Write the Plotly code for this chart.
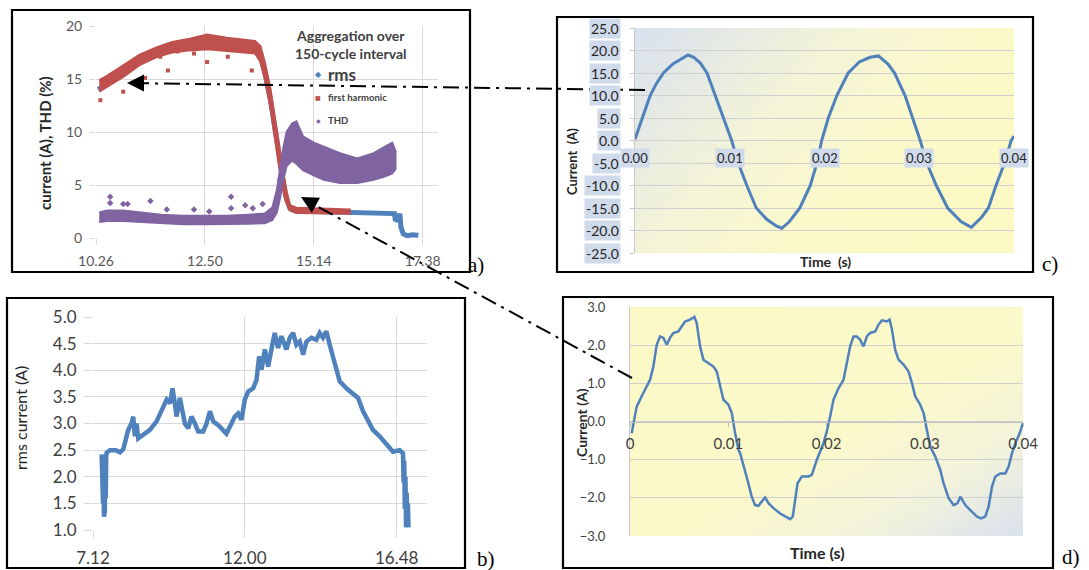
import base64
import plotly.graph_objects as go

# ---------------- data ----------------
# panel a (x in category-index units, labelled by A_XTICK_LABELS)
A_XTICK_LABELS = ["10.26", "12.50", "15.14", "17.38"]
A_YTICKS = [0, 5, 10, 15, 20]
A_RMS_X = [0.02, 0.1, 0.25, 0.4, 0.56, 0.7, 0.86, 1.02, 1.2, 1.35, 1.46, 1.51, 1.55, 1.6, 1.645, 1.69, 1.74,
           1.78, 1.84, 2.0, 2.3, 2.5, 2.7, 2.74, 2.75, 2.76, 2.77, 2.79, 2.8, 2.82, 2.86, 2.9, 2.96]
A_RMS_Y = [14.0, 14.5, 15.5, 16.6, 17.3, 17.8, 18.0, 18.2, 18.1, 17.9, 17.8, 17.1, 15.6, 13.1, 10.0, 6.8, 4.0,
           2.8, 2.55, 2.5, 2.45, 2.4, 2.4, 2.3, 1.6, 2.2, 1.5, 2.3, 1.0, 0.4, 0.2, 0.3, 0.25]
A_H1_X = [0.03, 0.1, 0.25, 0.4, 0.56, 0.7, 0.86, 1.02, 1.2, 1.35, 1.46, 1.51, 1.55, 1.6, 1.645, 1.69, 1.74,
          1.78, 1.84, 2.0, 2.2, 2.33]
A_H1_LO = [13.8, 14.3, 15.2, 16.3, 17.1, 17.5, 17.7, 17.8, 17.7, 17.5, 17.4, 16.6, 15.0, 12.4, 9.3, 6.1, 3.5,
           2.6, 2.35, 2.3, 2.3, 2.3]
A_H1_HI = [14.9, 15.3, 16.3, 17.3, 18.0, 18.5, 18.8, 19.2, 18.9, 18.7, 18.6, 18.1, 16.6, 14.2, 11.1, 7.9, 4.9,
           3.1, 2.85, 2.8, 2.75, 2.7]
A_H1_OUT_X = [0.04, 0.25, 0.45, 0.59, 0.66, 0.75, 0.9, 1.02, 1.21, 1.43]
A_H1_OUT_Y = [13.0, 13.8, 15.1, 17.1, 15.8, 17.6, 17.4, 16.6, 17.1, 15.8]
A_THD_X = [0.03, 0.1, 0.25, 0.4, 0.6, 0.8, 1.0, 1.2, 1.4, 1.55, 1.62, 1.66, 1.69, 1.72, 1.75, 1.8, 1.84, 1.9,
           2.0, 2.09, 2.24, 2.4, 2.55, 2.65, 2.72, 2.75]
A_THD_LO = [1.5, 1.6, 1.6, 1.5, 1.4, 1.3, 1.3, 1.3, 1.35, 1.4, 1.7, 2.4, 3.8, 5.5, 6.8, 7.3, 7.0, 6.4, 5.9,
            5.5, 5.2, 5.2, 5.5, 5.8, 6.1, 6.5]
A_THD_HI = [2.4, 2.6, 2.6, 2.4, 2.2, 2.1, 2.1, 2.1, 2.2, 2.3, 2.9, 4.5, 6.5, 8.5, 10.0, 10.8, 11.0, 9.6, 9.0,
            8.6, 8.0, 7.5, 8.0, 8.6, 9.0, 8.2]
A_THD_OUT_X = [0.13, 0.13, 0.25, 0.29, 0.5, 0.65, 0.9, 1.04, 1.24, 1.24, 1.37, 1.44, 1.53, 1.69]
A_THD_OUT_Y = [3.9, 3.3, 3.2, 3.2, 3.5, 2.7, 2.7, 2.5, 3.9, 2.8, 3.1, 2.8, 3.2, 5.5]

# panel b
B_XTICK_LABELS = ["7.12", "12.00", "16.48"]
B_YTICKS = [1.0, 1.5, 2.0, 2.5, 3.0, 3.5, 4.0, 4.5, 5.0]
B_X = [0.057, 0.060, 0.063, 0.066, 0.069, 0.072, 0.075, 0.078, 0.081, 0.084, 0.087, 0.09, 0.112, 0.15, 0.178,
       0.2, 0.211, 0.232, 0.254, 0.265, 0.276, 0.287, 0.298, 0.331, 0.375, 0.419, 0.463, 0.485, 0.507, 0.524,
       0.539, 0.55, 0.572, 0.59, 0.605, 0.627, 0.649, 0.671, 0.693, 0.726, 0.748, 0.77, 0.792, 0.825, 0.857,
       0.879, 0.912, 0.934, 0.956, 0.978, 1.0, 1.022, 1.055, 1.077, 1.094, 1.11, 1.132, 1.154, 1.175, 1.197,
       1.219, 1.241, 1.274, 1.296, 1.318, 1.34, 1.362, 1.384, 1.406, 1.439, 1.471, 1.493, 1.515, 1.537, 1.559,
       1.581, 1.603, 1.625, 1.669, 1.713, 1.746, 1.779, 1.811, 1.844, 1.888, 1.932, 1.976, 2.02, 2.042, 2.046,
       2.05, 2.054, 2.058, 2.062, 2.066, 2.07, 2.074, 2.078]
B_Y = [2.42, 1.9, 2.3, 1.5, 2.1, 1.25, 1.8, 1.35, 2.2, 1.6, 2.4, 2.45, 2.5, 2.5, 2.46,
       2.52, 2.63, 2.88, 3.0, 3.13, 2.76, 3.0, 2.72, 2.79, 2.88, 3.04, 3.29, 3.45, 3.38, 3.66,
       3.38, 3.13, 3.48, 3.26, 3.0, 2.91, 3.13, 3.0, 2.85, 2.85, 3.0, 3.23, 3.04, 2.97, 2.88,
       2.81, 3.0, 3.13, 3.19, 3.07, 3.45, 3.6, 3.66, 3.82, 4.26, 4.01, 4.39, 4.07, 4.39, 4.70,
       4.42, 4.64, 4.39, 4.61, 4.70, 4.48, 4.54, 4.29, 4.54, 4.61, 4.57, 4.70, 4.61, 4.73, 4.48,
       4.26, 3.98, 3.79, 3.66, 3.57, 3.48, 3.23, 3.04, 2.88, 2.76, 2.60, 2.47, 2.50, 2.44, 1.9,
       2.3, 1.4, 2.0, 1.05, 1.7, 1.1, 1.5, 1.05]

# panel c
C_T = [0.0, 0.0008, 0.0016, 0.0023, 0.0030, 0.0040, 0.0051, 0.0056, 0.0062, 0.0069, 0.0076, 0.0084, 0.0093,
       0.0102, 0.0109, 0.0118, 0.0128, 0.0139, 0.0149, 0.0155, 0.0163, 0.0174, 0.0185, 0.0192, 0.0197, 0.0204,
       0.0213, 0.0225, 0.0237, 0.0248, 0.0257, 0.0267, 0.0274, 0.0285, 0.0293, 0.0301, 0.0308, 0.0318, 0.0330,
       0.0344, 0.0355, 0.0366, 0.0373, 0.0381, 0.0390, 0.0397, 0.0400]
C_I = [0.3, 5.3, 10.0, 12.8, 15.0, 17.0, 18.5, 19.0, 18.5, 17.2, 15.0, 10.5, 5.0,
       0.0, -5.0, -10.0, -15.0, -17.5, -19.0, -19.5, -18.0, -15.0, -10.0, -5.0, 0.0, 5.0,
       10.0, 15.0, 17.5, 18.5, 18.8, 17.0, 15.0, 10.0, 5.0, 0.0, -5.0, -10.0, -15.0,
       -18.0, -19.3, -17.0, -15.0, -10.0, -5.0, 0.0, 1.0]
C_YTICKS = [-25, -20, -15, -10, -5, 0, 5, 10, 15, 20, 25]
C_XTICKS = [0.0, 0.01, 0.02, 0.03, 0.04]
C_XTICK_LABELS = ["0.00", "0.01", "0.02", "0.03", "0.04"]

# panel d
D_T = [0.00017, 0.00034, 0.00068, 0.00119, 0.00153, 0.00204, 0.00238, 0.00272, 0.00306, 0.0034, 0.00374,
       0.00407, 0.00441, 0.00492, 0.00526, 0.0056, 0.00611, 0.00655, 0.00679, 0.00713, 0.00747, 0.00798,
       0.00849, 0.00883, 0.00917, 0.00951, 0.01002, 0.01036, 0.0107, 0.01104, 0.01121, 0.01171, 0.01205,
       0.01239, 0.01273, 0.01307, 0.01341, 0.01375, 0.01409, 0.0146, 0.01528, 0.01579, 0.0163, 0.01657,
       0.01681, 0.01705, 0.01749, 0.01817, 0.01851, 0.01902, 0.01969, 0.02003, 0.02037, 0.02071, 0.02122,
       0.02173, 0.02207, 0.02241, 0.02275, 0.02309, 0.02343, 0.02377, 0.02411, 0.02445, 0.02496, 0.0253,
       0.02564, 0.02615, 0.02642, 0.02666, 0.02699, 0.02733, 0.02784, 0.02835, 0.02869, 0.02903, 0.02954,
       0.02988, 0.03022, 0.03056, 0.03107, 0.03158, 0.03192, 0.03243, 0.03294, 0.03334, 0.03362, 0.03413,
       0.03463, 0.03531, 0.03572, 0.03616, 0.0365, 0.03684, 0.03718, 0.03769, 0.0382, 0.03854, 0.03888,
       0.03922, 0.03966, 0.04]
D_I = [-0.31, -0.04, 0.39, 0.66, 0.83, 1.09, 1.44, 2.01, 2.23, 2.19, 2.01,
       2.19, 2.32, 2.36, 2.49, 2.62, 2.67, 2.74, 2.58, 1.97, 1.62, 1.53,
       1.44, 1.31, 0.92, 0.57, 0.44, 0.22, -0.31, -0.74, -0.83, -1.27, -1.62,
       -1.97, -2.19, -2.21, -2.10, -1.99, -2.14, -2.27, -2.41, -2.49, -2.56, -2.49,
       -2.06, -1.62, -1.44, -1.44, -1.40, -1.0, -0.57, -0.26, 0.13, 0.57, 0.87,
       1.09, 1.53, 1.97, 2.23, 2.23, 2.14, 1.97, 2.23, 2.32, 2.36, 2.54,
       2.65, 2.62, 2.67, 2.41, 1.88, 1.62, 1.49, 1.31, 1.01, 0.66, 0.44,
       0.22, -0.22, -0.66, -0.92, -1.27, -1.62, -2.01, -2.19, -2.14, -1.97, -2.19,
       -2.32, -2.49, -2.54, -2.49, -2.23, -1.71, -1.44, -1.36, -1.36, -1.18, -0.83,
       -0.57, -0.31, -0.04]
D_YTICKS = [-3, -2, -1, 0, 1, 2, 3]
D_XTICKS = [0.0, 0.01, 0.02, 0.03, 0.04]
D_XTICK_LABELS = ["0", "0.01", "0.02", "0.03", "0.04"]

# ---------------- styling ----------------
W, H = 1089, 570
FONT = "Lato"
SERIF = "Liberation Serif"
BLUE = "#4F81BD"
RED = "#C0504D"
PURPLE = "#8064A2"
GRID = "#d9d9d9"
TXT = "#404040"


def px(x):
    return x / W


def py(y):
    return 1 - y / H


def svg_uri(x2, y2, stops):
    st = "".join(f"<stop offset='{o}' stop-color='{c}'/>" for o, c in stops)
    svg = ("<svg xmlns='http://www.w3.org/2000/svg' width='100' height='100' viewBox='0 0 100 100' "
           "preserveAspectRatio='none'><defs><linearGradient id='g' x1='0' y1='0' "
           f"x2='{x2}' y2='{y2}'>{st}</linearGradient></defs>"
           "<rect x='0' y='0' width='100' height='100' fill='url(#g)'/></svg>")
    return "data:image/svg+xml;base64," + base64.b64encode(svg.encode()).decode()


def note(x, y, text, size, color="#262626", bold=False, family=FONT, angle=0, xanchor="center", **kw):
    f = dict(family=family, size=size, color=color)
    if bold:
        f["weight"] = "bold"
    d = dict(x=px(x), y=py(y), xref="paper", yref="paper", text=text, showarrow=False,
             xanchor=xanchor, yanchor="middle", textangle=angle, font=f)
    d.update(kw)
    return d


fig = go.Figure()

# panel a traces
fig.add_trace(go.Scatter(x=A_RMS_X, y=A_RMS_Y, mode="lines", line=dict(color=BLUE, width=5),
                         xaxis="x", yaxis="y", hoverinfo="skip"))
fig.add_trace(go.Scatter(x=A_H1_X + A_H1_X[::-1], y=A_H1_HI + A_H1_LO[::-1], mode="lines", fill="toself",
                         fillcolor=RED, line=dict(color=RED, width=2), xaxis="x", yaxis="y"))
fig.add_trace(go.Scatter(x=A_H1_OUT_X, y=A_H1_OUT_Y, mode="markers",
                         marker=dict(color=RED, size=4, symbol="square"), xaxis="x", yaxis="y"))
fig.add_trace(go.Scatter(x=A_THD_X + A_THD_X[::-1], y=A_THD_HI + A_THD_LO[::-1], mode="lines", fill="toself",
                         fillcolor=PURPLE, line=dict(color=PURPLE, width=2), xaxis="x", yaxis="y"))
fig.add_trace(go.Scatter(x=A_THD_OUT_X, y=A_THD_OUT_Y, mode="markers",
                         marker=dict(color=PURPLE, size=5, symbol="diamond"), xaxis="x", yaxis="y"))
# panel b
fig.add_trace(go.Scatter(x=B_X, y=B_Y, mode="lines", line=dict(color=BLUE, width=4.5),
                         xaxis="x2", yaxis="y2"))
# panel c
fig.add_trace(go.Scatter(x=C_T, y=C_I, mode="lines", line=dict(color=BLUE, width=3),
                         xaxis="x3", yaxis="y3"))
# panel d
fig.add_trace(go.Scatter(x=D_T, y=D_I, mode="lines", line=dict(color=BLUE, width=2.5),
                         xaxis="x4", yaxis="y4"))

tick_a = dict(family=FONT, size=14, color="#595959")
tick_b = dict(family=FONT, size=17, color=TXT)

layout = dict(
    template="none",
    width=W, height=H, autosize=False, showlegend=False,
    margin=dict(l=0, r=0, t=0, b=0, pad=0),
    paper_bgcolor="white", plot_bgcolor="rgba(0,0,0,0)",
    font=dict(family=FONT, color=TXT),
    xaxis=dict(domain=[px(96), px(438)], range=[0, 3.14], anchor="y", automargin=False,
               tickvals=list(range(len(A_XTICK_LABELS))), ticktext=A_XTICK_LABELS,
               showgrid=True, gridcolor=GRID, zeroline=False, showline=False,
               ticks="outside", ticklen=6, tickcolor=GRID, tickfont=tick_a, ticklabelstandoff=4),
    yaxis=dict(domain=[py(238), py(26)], range=[0, 20], anchor="x", tickvals=A_YTICKS, automargin=False,
               showgrid=True, gridcolor=GRID, zeroline=False, showline=False,
               ticks="outside", ticklen=6, tickcolor=GRID, tickfont=tick_a, ticklabelstandoff=4),
    xaxis2=dict(domain=[px(93), px(427)], range=[0, 2.2], anchor="y2", automargin=False,
                tickvals=list(range(len(B_XTICK_LABELS))), ticktext=B_XTICK_LABELS,
                showgrid=True, gridcolor=GRID, zeroline=False, showline=False,
                ticks="outside", ticklen=7, tickcolor=GRID, tickfont=tick_b, ticklabelstandoff=6),
    yaxis2=dict(domain=[py(530), py(317)], range=[1.0, 5.0], anchor="x2", tickvals=B_YTICKS, automargin=False,
                tickformat=".1f", showgrid=True, gridcolor=GRID, zeroline=False, showline=False,
                ticks="outside", ticklen=8, tickcolor=GRID, tickfont=tick_b, ticklabelstandoff=4),
    xaxis3=dict(domain=[px(635), px(1014)], range=[0, 0.04], anchor="y3", showticklabels=False,
                automargin=False, showgrid=False, zeroline=False, showline=False, ticks=""),
    yaxis3=dict(domain=[py(253), py(28)], range=[-25, 25], anchor="x3", tickvals=C_YTICKS, automargin=False,
                showticklabels=False, showgrid=True, gridcolor="#d0d0d0", zeroline=False,
                showline=True, linecolor="#c8c8c8", ticks="outside", ticklen=4, tickcolor="#c8c8c8"),
    xaxis4=dict(domain=[px(630), px(1023)], range=[0, 0.04], anchor="free", position=py(422),
                automargin=False,
                tickvals=D_XTICKS, ticktext=D_XTICK_LABELS, showgrid=False, zeroline=False,
                showline=True, linecolor="#c0c0c0", ticks="outside", ticklen=4, tickcolor="#c0c0c0",
                tickfont=dict(family=FONT, size=15, color=TXT), ticklabelstandoff=4),
    yaxis4=dict(domain=[py(536), py(307)], range=[-3, 3], anchor="x4", tickvals=D_YTICKS, automargin=False,
                tickformat=".1f", showgrid=True, gridcolor="#d0d0d0", zeroline=False,
                showline=True, linecolor="#c8c8c8", ticks="", tickfont=dict(family=FONT, size=13, color=TXT),
                ticklabelstandoff=21),
)
fig.update_layout(**layout)

# gradient backgrounds for c and d
fig.add_layout_image(dict(source=svg_uri(1, 0.55, [(0, "#d8e1ee"), (0.42, "#f3f3d9"), (0.7, "#fbf9cb"),
                                                  (1, "#fcf9c4")]),
                          xref="paper", yref="paper", x=px(635), y=py(28), sizex=px(1014) - px(635),
                          sizey=(253 - 28) / H, xanchor="left", yanchor="top", sizing="stretch",
                          layer="below"))
fig.add_layout_image(dict(source=svg_uri(1, 1, [(0, "#fcf9c6"), (0.55, "#fbf9ca"), (0.8, "#f1f2dc"),
                                              (1, "#d9e1ef")]),
                          xref="paper", yref="paper", x=px(630), y=py(307), sizex=px(1023) - px(630),
                          sizey=(536 - 307) / H, xanchor="left", yanchor="top", sizing="stretch",
                          layer="below"))

shapes = []
for (x0, y0, x1, y1) in [(12, 10, 470, 272), (7, 298, 465, 568), (557, 17, 1033, 272), (563, 297, 1053, 568)]:
    shapes.append(dict(type="rect", xref="paper", yref="paper", x0=px(x0), y0=py(y0), x1=px(x1), y1=py(y1),
                       line=dict(color="black", width=2.2), fillcolor="rgba(0,0,0,0)"))
DASH = "16px,6px,3px,6px"
shapes.append(dict(type="line", xref="paper", yref="paper", x0=px(645), y0=py(90), x1=px(140), y1=py(83.2),
                   line=dict(color="black", width=2, dash=DASH)))
shapes.append(dict(type="line", xref="paper", yref="paper", x0=px(632), y0=py(378), x1=px(312), y1=py(203.5),
                   line=dict(color="black", width=2, dash=DASH)))
fig.update_layout(shapes=shapes)

ann = []
# arrowheads
ann.append(dict(x=px(127), y=py(83), xref="paper", yref="paper", ax=16, ay=0, text="", showarrow=True,
                arrowhead=2, arrowsize=1.7, arrowwidth=2, arrowcolor="black", standoff=0))
ann.append(dict(x=px(301), y=py(197), xref="paper", yref="paper", ax=14, ay=7.7, text="", showarrow=True,
                arrowhead=2, arrowsize=1.7, arrowwidth=2, arrowcolor="black", standoff=0))

# panel a text
ann.append(note(45, 143, "current (A), THD (%)", 15, bold=True, angle=-90))
ann.append(note(351, 44, "Aggregation over<br>150-cycle interval", 14, color=TXT, bold=True))
for (yy, sym, col, ssz, label, fsz) in [(75, "◆", BLUE, 8, "rms", 17), (98, "■", RED, 6, "first harmonic", 9.5),
                                        (120, "◆", PURPLE, 6, "THD", 9.5)]:
    ann.append(note(318, yy, sym, ssz, color=col, family="DejaVu Sans"))
    ann.append(note(326, yy, label, fsz, color=TXT, bold=True, xanchor="left"))

# panel b text
ann.append(note(21, 418, "rms current (A)", 16, angle=-90))

# panel c ticks & titles
for v in C_YTICKS:
    ann.append(dict(x=0, y=v, xref="x3", yref="y3", text=f"{v:.1f}", showarrow=False, xanchor="right",
                    yanchor="middle", xshift=-14, bgcolor="#cfdaeb", borderpad=1,
                    font=dict(family=FONT, size=14, color="#262626")))
for v, lab in zip(C_XTICKS, C_XTICK_LABELS):
    ann.append(dict(x=v, y=0, xref="x3", yref="y3", text=lab, showarrow=False, xanchor="center",
                    yanchor="middle", yshift=-17, bgcolor="#cfdaeb", borderpad=1,
                    font=dict(family=FONT, size=13, color="#262626")))
ann.append(note(572, 162, "Current  (A)", 13, bold=True, angle=-90))
ann.append(note(825, 261, "Time  (s)", 14, bold=True))

# panel d titles
ann.append(note(581, 423, "Current (A)", 14, bold=True, angle=-90))
ann.append(note(817, 552, "Time (s)", 16, bold=True))

# panel letters
for (lx, ly, t) in [(476, 265, "a)"), (486, 559, "b)"), (1050, 264, "c)"), (1071, 557, "d)")]:
    ann.append(note(lx, ly, t, 21, color="black", family=SERIF))

fig.update_layout(annotations=ann)
fig.write_html("out.html", config={"displayModeBar": False},
               post_script="document.body.style.margin='0px';document.body.style.overflow='hidden';")
